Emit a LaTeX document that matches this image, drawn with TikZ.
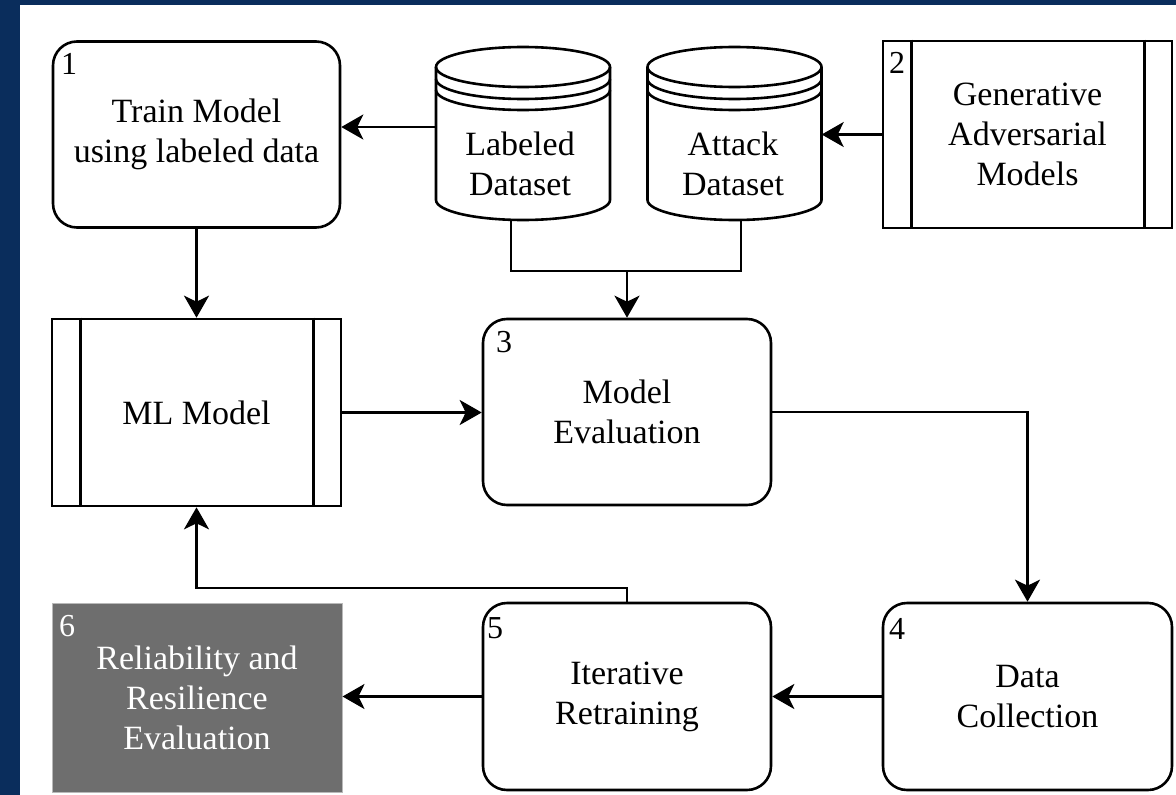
\documentclass[tikz,border=0pt]{standalone}
\usepackage{fontspec}
\setmainfont{Liberation Serif}
\usetikzlibrary{arrows.meta,calc}
\definecolor{navybg}{RGB}{10,45,92}
\definecolor{boxgray}{RGB}{110,110,110}
\tikzset{
  ln/.style={line width=2.6pt, draw=black},
  arr/.style={ln, -{Stealth[length=22pt,width=25pt,inset=6pt]}},
  lbl/.style={font=\fontsize{34}{40}\selectfont, align=center},
  num/.style={font=\fontsize{32}{38}\selectfont, anchor=north west, inner sep=0pt},
  rbox/.style={ln, rounded corners=24pt, minimum width=287pt, minimum height=186pt, lbl},
  pbox/.style={ln, rectangle, minimum width=289pt, minimum height=187pt, lbl},
  dbox/.style={rectangle, minimum width=174pt, minimum height=173pt, inner sep=0pt},
}
\newcommand{\dbcyl}[1]{%
  \draw[ln] (#1,67) ellipse [x radius=87, y radius=20];
  \draw[ln] (#1-87,67) -- (#1-87,200) arc[start angle=180, end angle=0, x radius=87, y radius=20] -- (#1+87,67);
  \draw[ln] (#1-87,79) arc[start angle=180, end angle=0, x radius=87, y radius=20];
  \draw[ln] (#1-87,90) arc[start angle=180, end angle=0, x radius=87, y radius=20];
}
\begin{document}
\begin{tikzpicture}[x=1pt,y=-1pt]
\useasboundingbox (0,0) rectangle (1176,795);
\fill[navybg] (0,0) rectangle (1176,795);
\fill[white] (20,5) rectangle (1176,795);

% nodes
\node[rbox] (b1) at (196.5,134.5) {Train Model\\using labeled data};
\node[dbox] (lab) at (523,133.5) {};
\node[dbox] (att) at (734.5,133.5) {};
\dbcyl{523}
\dbcyl{734.5}
\node[lbl] (labt) at (520,163.5) {Labeled\\Dataset};
\node[lbl] (attt) at (733,163.5) {Attack\\Dataset};
\node[pbox] (gam) at (1027.5,134.5) {Generative\\Adversarial\\Models};
\draw[ln] ([xshift=30pt]gam.north west) -- ([xshift=30pt]gam.south west);
\draw[ln] ([xshift=-29pt]gam.north east) -- ([xshift=-29pt]gam.south east);

\node[pbox] (ml) at (196.5,412.5) {ML Model};
\draw[ln] ([xshift=30pt]ml.north west) -- ([xshift=30pt]ml.south west);
\draw[ln] ([xshift=-29pt]ml.north east) -- ([xshift=-29pt]ml.south east);

\node[rbox, minimum width=288pt] (b3) at (627,412) {Model\\Evaluation};
\node[rbox, minimum width=289pt, minimum height=187pt] (b4) at (1027.5,696.5) {Data\\Collection};
\node[rbox, minimum width=288pt, minimum height=187pt] (b5) at (627,696.5) {Iterative\\Retraining};
\node[rectangle, draw=gray!55, line width=1pt, fill=boxgray, text=white, lbl,
      minimum width=290pt, minimum height=189pt] (b6) at (197,697.5) {Reliability and\\Resilience\\Evaluation};

% step numbers
\node[num] (n1) at (61,53) {1};
\node[num] (n2) at (889,52) {2};
\node[num] (n3) at (496,331) {3};
\node[num] (n4) at (889,618) {4};
\node[num] (n5) at (487,617) {5};
\node[num, text=white] (n6) at (59,615) {6};

% connectors
\draw[arr] ([yshift=6.5pt]lab.west) -- ([yshift=6.5pt]lab.west -| b1.east);
\draw[arr] (gam.west) -- (gam.west -| att.east);
\coordinate (jn) at (627,271);
\draw[ln] ([xshift=-12pt]lab.south) |- (jn) -| ([xshift=6.5pt]att.south);
\draw[arr] (jn) -- (b3.north);
\draw[arr] (b1.south) -- (ml.north);
\draw[arr] (ml.east) -- (ml.east -| b3.west);
\draw[arr] (b3.east) -| (b4.north);
\draw[arr] (b4.west) -- (b4.west -| b5.east);
\draw[arr] (b5.west) -- (b5.west -| b6.east);
\coordinate (fb) at (627,588);
\draw[arr] (b5.north) -- (fb) -| (ml.south);
\end{tikzpicture}
\end{document}
